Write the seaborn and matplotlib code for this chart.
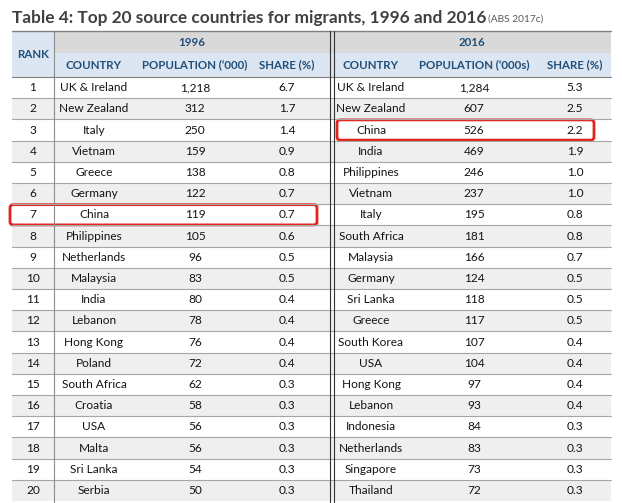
import numpy as np
import matplotlib
matplotlib.use("Agg")
import matplotlib.pyplot as plt
from matplotlib.colors import ListedColormap
from matplotlib.patches import Rectangle, FancyBboxPatch
import seaborn as sns

# ---------------- data ----------------
ranks = list(range(1, 21))
countries_1996 = ["UK & Ireland", "New Zealand", "Italy", "Vietnam", "Greece", "Germany",
                  "China", "Philippines", "Netherlands", "Malaysia", "India", "Lebanon",
                  "Hong Kong", "Poland", "South Africa", "Croatia", "USA", "Malta",
                  "Sri Lanka", "Serbia"]
pop_1996 = [1218, 312, 250, 159, 138, 122, 119, 105, 96, 83, 80, 78, 76, 72, 62, 58, 56, 56, 54, 50]
share_1996 = [6.7, 1.7, 1.4, 0.9, 0.8, 0.7, 0.7, 0.6, 0.5, 0.5, 0.4, 0.4, 0.4, 0.4,
              0.3, 0.3, 0.3, 0.3, 0.3, 0.3]
countries_2016 = ["UK & Ireland", "New Zealand", "China", "India", "Philippines", "Vietnam",
                  "Italy", "South Africa", "Malaysia", "Germany", "Sri Lanka", "Greece",
                  "South Korea", "USA", "Hong Kong", "Lebanon", "Indonesia", "Netherlands",
                  "Singapore", "Thailand"]
pop_2016 = [1284, 607, 526, 469, 246, 237, 195, 181, 166, 124, 118, 117, 107, 104, 97, 93, 84, 83, 73, 72]
share_2016 = [5.3, 2.5, 2.2, 1.9, 1.0, 1.0, 0.8, 0.8, 0.7, 0.5, 0.5, 0.5, 0.4, 0.4,
              0.4, 0.4, 0.3, 0.3, 0.3, 0.3]
years = ["1996", "2016"]
sub_headers_1996 = ["COUNTRY", "POPULATION (\u2018000)", "SHARE (%)"]
sub_headers_2016 = ["COUNTRY", "POPULATION (\u2018000s)", "SHARE (%)"]
highlight = {"1996": "China", "2016": "China"}

# ---------------- style ----------------
sns.set_theme(style="white")
plt.rcParams["font.family"] = ["Lato", "DejaVu Sans"]

W, H = 622, 503
LEFT, RIGHT = 12, 611
TOP, YEAR_BOT, HEAD_BOT = 31, 53, 77
ROW_H = 21.2
BODY_BOT = HEAD_BOT + ROW_H * len(ranks)
RANK_X, DBL_X = 54, 330

# column centres
cx_rank = 33
cx_1996 = [94, 195, 287]
cx_2016 = [371, 474, 575]

HEAD_BLUE = "#DCE6F2"
HEAD_GREY = "#D9D9D9"
STRIPE = "#EFEFEF"
HEAD_TXT = "#1F4E79"
LINE = "#A6A6A6"
RED = "#E3241D"

fig = plt.figure(figsize=(W / 100, H / 100), dpi=100)
fig.patch.set_facecolor("white")

# row striping drawn as a one-column heatmap under the table body
stripe_ax = fig.add_axes([LEFT / W, 1 - BODY_BOT / H, (RIGHT - LEFT) / W, (BODY_BOT - HEAD_BOT) / H])
parity = np.array([[r % 2 == 0] for r in ranks], dtype=float)
sns.heatmap(parity, ax=stripe_ax, cmap=ListedColormap(["white", STRIPE]), cbar=False,
            xticklabels=False, yticklabels=False, linewidths=0)
stripe_ax.set_axis_off()

# overlay axes in pixel coordinates for the grid and texts
ax = fig.add_axes([0, 0, 1, 1])
ax.set_xlim(0, W)
ax.set_ylim(H, 0)
ax.patch.set_alpha(0)
ax.set_axis_off()

# title
ax.text(LEFT, 18, "Table 4: Top 20 source countries for migrants, 1996 and 2016",
        fontsize=12.4, fontweight="bold", color="#404040", va="center", ha="left")
ax.text(488, 19.5, "(ABS 2017c)", fontsize=7.3, color="#595959", va="center", ha="left")

# header backgrounds
ax.add_patch(Rectangle((LEFT, TOP), RANK_X - LEFT, HEAD_BOT - TOP, color=HEAD_BLUE, lw=0))
ax.add_patch(Rectangle((RANK_X, TOP), RIGHT - RANK_X, YEAR_BOT - TOP, color=HEAD_GREY, lw=0))
ax.add_patch(Rectangle((RANK_X, YEAR_BOT), RIGHT - RANK_X, HEAD_BOT - YEAR_BOT, color=HEAD_BLUE, lw=0))

hkw = dict(fontsize=8.3, fontweight="bold", color=HEAD_TXT, ha="center", va="center")
ax.text(cx_rank, (TOP + HEAD_BOT) / 2, "RANK", **hkw)
ax.text((RANK_X + DBL_X) / 2, (TOP + YEAR_BOT) / 2, years[0], **hkw)
ax.text((DBL_X + 3 + RIGHT) / 2, (TOP + YEAR_BOT) / 2, years[1], **hkw)
for x, lab in zip(cx_1996, sub_headers_1996):
    ax.text(x, (YEAR_BOT + HEAD_BOT) / 2, lab, **hkw)
for x, lab in zip(cx_2016, sub_headers_2016):
    ax.text(x, (YEAR_BOT + HEAD_BOT) / 2, lab, **hkw)

# grid lines
ax.plot([LEFT, RIGHT], [TOP, TOP], color="#808080", lw=1)
ax.plot([LEFT, RIGHT], [HEAD_BOT, HEAD_BOT], color="#808080", lw=0.8)
for i in ranks[:-1]:
    y = HEAD_BOT + ROW_H * i
    ax.plot([LEFT, RIGHT], [y, y], color=LINE, lw=0.8)
ax.plot([RANK_X, RANK_X], [TOP, BODY_BOT + 2], color="#8C8C8C", lw=0.8)
for dx in (0, 3.5):
    ax.plot([DBL_X + dx, DBL_X + dx], [TOP, BODY_BOT + 2], color="#333333", lw=0.8)

# body text
bkw = dict(fontsize=8.6, color="#141414", ha="center", va="center")
for i, r in enumerate(ranks):
    y = HEAD_BOT + ROW_H * (i + 0.5)
    ax.text(cx_rank, y, str(r), **bkw)
    ax.text(cx_1996[0], y, countries_1996[i], **bkw)
    ax.text(cx_1996[1], y, f"{pop_1996[i]:,}", **bkw)
    ax.text(cx_1996[2], y, f"{share_1996[i]:.1f}", **bkw)
    ax.text(cx_2016[0], y, countries_2016[i], **bkw)
    ax.text(cx_2016[1], y, f"{pop_2016[i]:,}", **bkw)
    ax.text(cx_2016[2], y, f"{share_2016[i]:.1f}", **bkw)

# red highlight boxes around China
i96 = countries_1996.index(highlight["1996"])
i16 = countries_2016.index(highlight["2016"])
for x0, x1, i in [(10, 317, i96), (337, 594, i16)]:
    y0 = HEAD_BOT + ROW_H * i + 0.5
    ax.add_patch(FancyBboxPatch((x0 + 2, y0 + 2), x1 - x0 - 4, ROW_H - 5,
                                boxstyle="round,pad=2,rounding_size=3",
                                fill=False, edgecolor=RED, lw=2))

fig.savefig("out.png", dpi=100, facecolor="white")
